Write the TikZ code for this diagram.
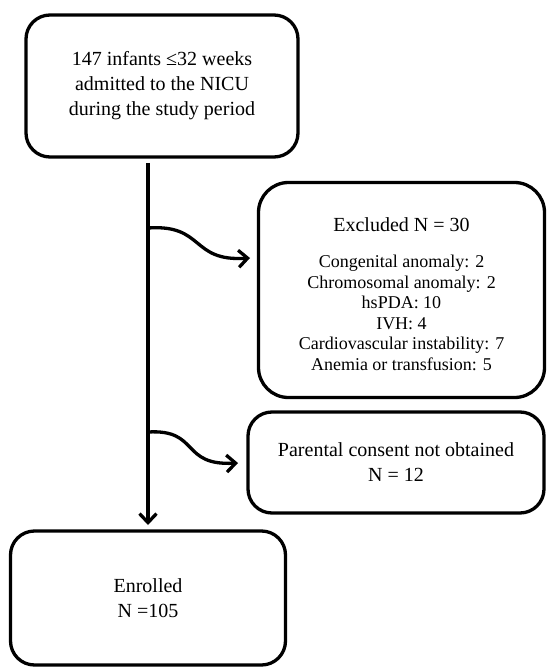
\documentclass[tikz,border=0pt]{standalone}
\usepackage{fontspec}
\setmainfont{Liberation Serif}
\usetikzlibrary{arrows.meta}
\begin{document}
\begin{tikzpicture}[x=1pt,y=-1pt,
  box/.style={draw, line width=3.3pt, rounded corners=24pt, align=center, inner sep=0pt, font=\fontsize{20}{25}\selectfont},
  arr/.style={line width=3.3pt, -{Straight Barb[length=9pt,width=17pt,line width=3.3pt]}}]
\useasboundingbox (0,0) rectangle (546,668);
\node[box, minimum width=272pt, minimum height=142pt] (top) at (162,86)
  {147 infants ≤32 weeks\\admitted to the NICU\\during the study period};
\node[box, minimum width=286pt, minimum height=215pt, rounded corners=30pt] (exc) at (401.5,290) {};
\node[font=\fontsize{20}{25}\selectfont] (exct) at (401.5,225) {Excluded N = 30};
\node[font=\fontsize{18}{20.5}\selectfont, align=center] (excl) at (401.5,313)
  {Congenital anomaly: 2\\Chromosomal anomaly: 2\\hsPDA: 10\\IVH: 4\\Cardiovascular instability: 7\\Anemia or transfusion: 5};
\node[box, minimum width=296pt, minimum height=101pt] (par) at (396,462.5)
  {Parental consent not obtained\\N = 12};
\node[box, minimum width=275pt, minimum height=134pt] (enr) at (148,598)
  {Enrolled\\N =105};
\coordinate (v0) at (148,163);
\coordinate (v1) at (148,525);
\draw[arr] (v0) -- (v1);
\coordinate (b1s) at (148,228);
\coordinate (b1e) at (250,258);
\draw[arr] (b1s) .. controls (205,224) and (190,262) .. (b1e);
\coordinate (b2s) at (148,432);
\coordinate (b2e) at (238,463);
\draw[arr] (b2s) .. controls (200,429) and (180,466) .. (b2e);
\end{tikzpicture}
\end{document}
